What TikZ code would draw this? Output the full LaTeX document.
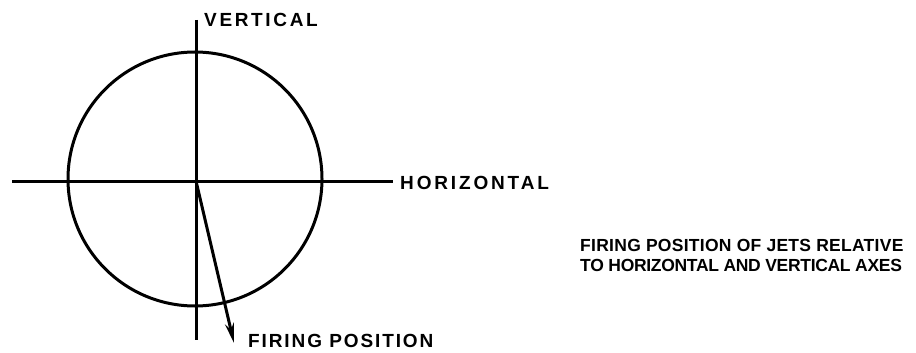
\documentclass[tikz,border=0pt]{standalone}
\usepackage{fontspec}
\setmainfont{Liberation Sans}
\usetikzlibrary{arrows.meta}
\newcommand\lsp[1]{\addfontfeature{LetterSpace=#1}}
\begin{document}
\begin{tikzpicture}[x=1pt,y=-1pt,
  ln/.style={line width=3pt},
  lbl/.style={anchor=base west,inner sep=0pt,font=\bfseries\fontsize{19}{20}\selectfont},
  lbs/.style={anchor=base west,inner sep=0pt,font=\bfseries\fontsize{17.5}{20}\selectfont}]
\useasboundingbox (0,0) rectangle (916,353);
\coordinate (O) at (196,181);
\coordinate (vt) at (196,20);
\coordinate (vb) at (196,340);
\coordinate (hl) at (12,181);
\coordinate (hr) at (393,181);
\coordinate (tip) at (234,343);
\draw[ln] (vt) -- (vb);
\draw[ln] (hl) -- (hr);
\draw[ln] (195,179) circle[radius=127];
\draw[ln,-{Stealth[length=20pt,width=9pt]}] (O) -- (tip);
\node[lbl] (v) at (204,27) {\lsp{14}VERTICAL};
\node[lbl] (h) at (400,189) {\lsp{15}HORIZONTAL};
\node[lbl] (f) at (248,347) {\lsp{10}FIRING POSITION};
\node[lbs] (c1) at (580,251) {\lsp{1.6}FIRING POSITION OF JETS RELATIVE};
\node[lbs] (c2) at (580,271) {\lsp{-1.8}TO HORIZONTAL AND VERTICAL AXES};
\end{tikzpicture}
\end{document}
